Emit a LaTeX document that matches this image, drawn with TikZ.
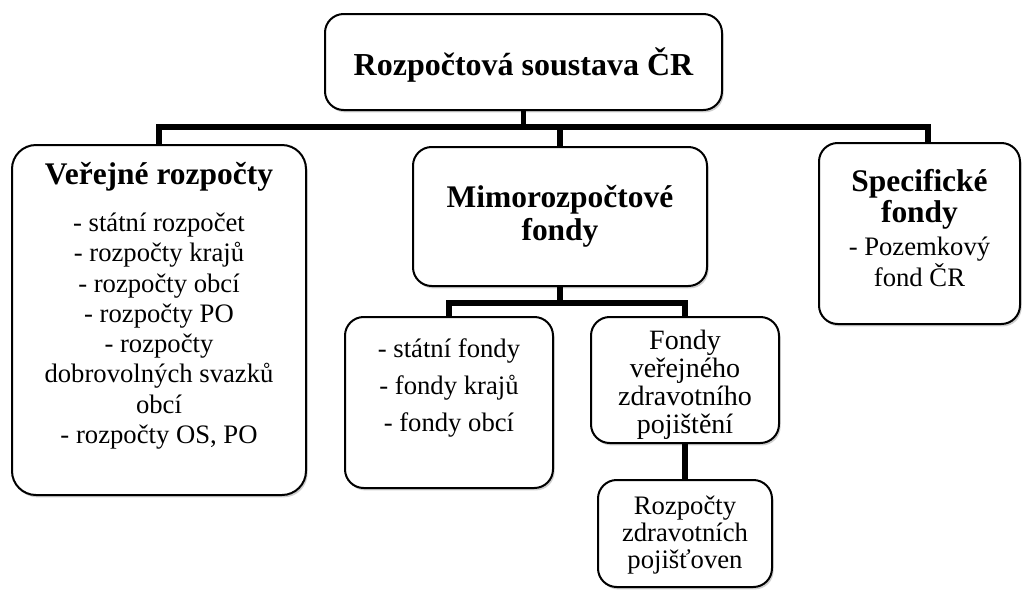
\documentclass[tikz,border=0pt]{standalone}
\usepackage{fontspec}
\setmainfont{Liberation Serif}
\usetikzlibrary{shadows}
\begin{document}
\begin{tikzpicture}[x=0.75pt,y=-0.75pt,
  box/.style={draw=black, line width=1.5pt, fill=white, rounded corners=14pt, inner sep=0pt,
    drop shadow={shadow xshift=1.2pt, shadow yshift=-1.8pt, opacity=0.35, fill=black!55}},
  conn/.style={draw=black, line width=3.8pt},
  hd/.style={font=\fontsize{23.6}{24.75}\selectfont\bfseries, align=center, inner sep=0pt},
  it/.style={font=\fontsize{20}{22.7}\selectfont, align=center, inner sep=0pt}]
\useasboundingbox (0,0) rectangle (1022,590);

% boxes
\node[box, minimum width=297.75pt, minimum height=72pt] (top) at (523.5,62) {};
\node[box, rounded corners=18pt, minimum width=220.5pt, minimum height=262.5pt] (vr) at (159,320) {};
\node[box, minimum width=220.5pt, minimum height=104.25pt] (mf) at (560,216.5) {};
\node[box, minimum width=150.75pt, minimum height=135.75pt] (sf) at (919.5,233.5) {};
\node[box, minimum width=156pt, minimum height=128.25pt] (sfl) at (449,402.5) {};
\node[box, minimum width=141pt, minimum height=94.5pt] (fz) at (685,380) {};
\node[box, minimum width=130.5pt, minimum height=80.25pt] (rz) at (685,533.5) {};

% connectors
\coordinate (bus) at (0,127);
\coordinate (sfin) at (928,143.5);
\coordinate (bus2) at (0,303);
\draw[conn] (top.south) -- (top.south |- bus);
\draw[conn] (vr.north) |- (sfin |- bus) -- (sfin);
\draw[conn] (mf.north) -- (mf.north |- bus);
\draw[conn] (mf.south) -- (mf.south |- bus2);
\draw[conn] (sfl.north) |- (fz.north |- bus2) -- (fz.north);
\draw[conn] (fz.south) -- (fz.south |- rz.north);

% texts
\node[hd, font=\fontsize{24}{26}\selectfont\bfseries] (toptx) at (523.5,65) {Rozpočtová soustava ČR};
\node[hd] (vrh) at (159,177) {Veřejné rozpočty};
\node[it] (vri) at (159,331) {- státní rozpočet\\- rozpočty krajů\\- rozpočty obcí\\- rozpočty PO\\- rozpočty\\dobrovolných svazků\\obcí\\- rozpočty OS, PO};
\node[hd] (mfh) at (560,216.5) {Mimorozpočtové\\fondy};
\node[hd, font=\fontsize{23.6}{23.25}\selectfont\bfseries] (sfh) at (919.5,199) {Specifické\\fondy};
\node[it, font=\fontsize{20}{23.25}\selectfont] (sfi) at (919.5,262) {- Pozemkový\\fond ČR};
\node[it, font=\fontsize{20}{27.5}\selectfont] (sfli) at (449,388) {- státní fondy\\- fondy krajů\\- fondy obcí};
\node[it, font=\fontsize{21}{21}\selectfont] (fzi) at (685,385) {Fondy\\veřejného\\zdravotního\\pojištění};
\node[it, font=\fontsize{20}{20.25}\selectfont] (rzi) at (685,535) {Rozpočty\\zdravotních\\pojišťoven};
\end{tikzpicture}
\end{document}
